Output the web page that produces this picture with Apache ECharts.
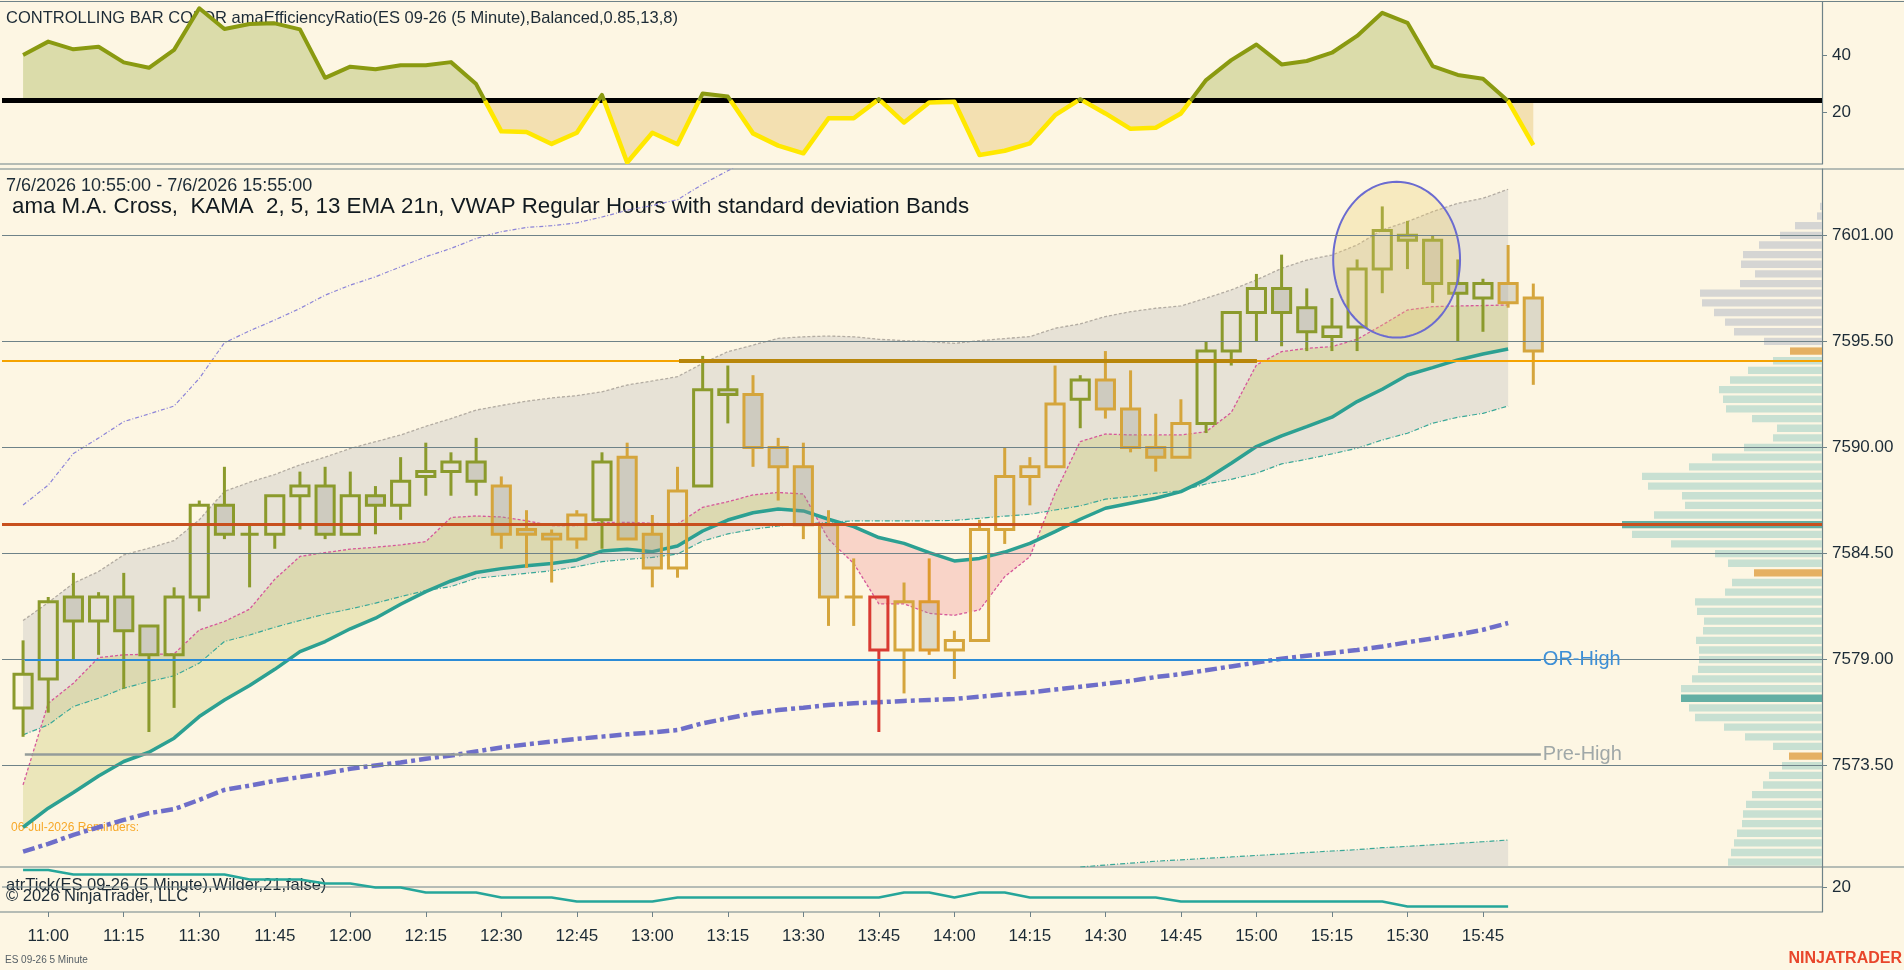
<!DOCTYPE html>
<html><head><meta charset="utf-8">
<script src="https://cdn.jsdelivr.net/npm/echarts@6/dist/echarts.min.js"></script>
<style>html,body{margin:0;padding:0;background:#fdf6e3;}#c{width:1904px;height:970px;}</style>
</head><body><div id="c"></div>
<script>
// ---------------- DATA ----------------
const barTimes = ['10:55','11:00','11:05','11:10','11:15','11:20','11:25','11:30','11:35','11:40','11:45','11:50','11:55',
 '12:00','12:05','12:10','12:15','12:20','12:25','12:30','12:35','12:40','12:45','12:50','12:55',
 '13:00','13:05','13:10','13:15','13:20','13:25','13:30','13:35','13:40','13:45','13:50','13:55',
 '14:00','14:05','14:10','14:15','14:20','14:25','14:30','14:35','14:40','14:45','14:50','14:55',
 '15:00','15:05','15:10','15:15','15:20','15:25','15:30','15:35','15:40','15:45','15:50','15:55'];
const xTickLabels = ['11:00','11:15','11:30','11:45','12:00','12:15','12:30','12:45','13:00','13:15','13:30','13:45',
 '14:00','14:15','14:30','14:45','15:00','15:15','15:30','15:45'];
const priceTicks = [7573.5, 7579, 7584.5, 7590, 7595.5, 7601];
const erTicks = [20, 40];
const atrTicks = [20];

const opens = [7576.5,7578.0,7582.25,7581.0,7582.25,7580.75,7579.25,7582.25,7587.0,7585.5,
 7585.5,7587.5,7588.0,7585.5,7587.5,7587.0,7588.5,7588.75,7589.25,7588.0,
 7585.75,7585.5,7585.25,7586.25,7589.5,7585.5,7583.75,7588.0,7593.0,7592.75,
 7590.0,7589.0,7586.0,7582.25,7582.25,7579.5,7582.0,7579.5,7580.0,7585.75,
 7588.5,7589.0,7592.5,7593.5,7592.0,7590.0,7589.5,7591.25,7595.0,7597.0,
 7598.25,7597.25,7595.75,7596.25,7599.25,7601.0,7600.75,7598.5,7597.75,7598.5,7597.75];
const highs = [7580.0,7582.25,7583.5,7582.5,7583.5,7580.75,7582.75,7587.25,7589.0,7586.0,
 7587.5,7588.75,7589.0,7588.75,7588.0,7589.5,7590.25,7589.75,7590.5,7588.5,
 7586.75,7585.75,7586.75,7589.75,7590.25,7586.5,7589.0,7594.75,7594.25,7593.75,
 7590.5,7590.25,7586.75,7584.25,7582.25,7583.0,7584.25,7580.5,7586.25,7590.0,
 7589.5,7594.25,7593.75,7595.0,7594.0,7591.75,7592.5,7595.5,7597.0,7599.0,
 7600.0,7598.25,7597.75,7599.75,7602.5,7601.75,7601.0,7599.75,7598.75,7600.5,7598.5];
const lows = [7575.0,7576.25,7579.0,7579.25,7577.5,7575.25,7576.5,7581.5,7585.25,7582.75,
 7584.75,7585.75,7585.25,7585.5,7585.5,7586.25,7587.5,7587.5,7587.5,7584.75,
 7583.75,7583.0,7584.75,7584.75,7585.25,7582.75,7583.25,7588.0,7591.25,7589.0,
 7587.25,7585.25,7580.75,7580.75,7575.25,7577.25,7579.25,7578.0,7580.0,7585.0,
 7587.0,7589.0,7591.0,7591.5,7589.75,7588.75,7589.5,7590.75,7594.25,7595.5,
 7595.25,7595.0,7595.0,7595.0,7598.0,7599.25,7597.5,7595.5,7596.0,7597.25,7593.25];
const closes = [7578.25,7582.0,7581.0,7582.25,7580.5,7579.25,7582.25,7587.0,7585.5,7585.5,
 7587.5,7588.0,7585.5,7587.5,7587.0,7588.25,7588.75,7589.25,7588.25,7585.5,
 7585.5,7585.25,7586.5,7589.25,7585.25,7583.75,7587.75,7593.0,7592.75,7590.0,
 7589.0,7586.0,7582.25,7582.25,7579.5,7582.0,7579.5,7580.0,7585.75,7588.5,
 7589.0,7592.25,7593.5,7592.0,7590.0,7589.5,7591.25,7595.0,7597.0,7598.25,
 7597.0,7596.0,7596.25,7599.25,7601.25,7600.75,7598.5,7598.0,7598.5,7597.5,7595.0];
// bar colour state from amaEfficiencyRatio: G trend, Y non-trend, R red, O orange
const barState = ('GGGGGGGGGGGGGGGGGGG'+'YYYY'+'G'+'YYY'+'GG'+'YYYYY'+'R'+'Y'+'O'+'YYYYY'+'G'+'YYYY'+'GGGGGGGGGGGG'+'YY').split('');

// amaEfficiencyRatio
const effRatio = [40.0,44.7,42.0,42.9,37.4,35.5,41.8,56.4,49.1,50.9,51.1,49.0,32.0,35.9,35.0,36.4,36.4,37.5,29.8,13.2,
 13.0,8.8,12.7,26.0,2.3,12.7,8.7,26.5,25.4,12.5,8.2,5.5,17.8,17.8,24.5,16.3,23.3,23.6,4.9,6.4,
 9.0,18.9,24.5,19.5,14.1,14.5,19.5,31.2,38.2,43.7,36.7,37.9,40.8,46.7,54.8,51.3,36.1,33.0,31.7,23.8,8.4];
const erThreshold = 24;

// VWAP bands
const vwapUpper2 = [7587.02,7588.05,7589.69,7590.49,7591.34,7591.74,7592.15,7593.58,7595.43,7596.05,
 7596.61,7597.21,7597.90,7598.42,7598.85,7599.37,7599.89,7600.32,7600.84,7601.19,
 7601.41,7601.50,7601.65,7601.95,7602.30,7602.55,7602.85,7603.65,7604.35,7605.0];
const vwapUpper1 = [7581.03,7581.96,7582.96,7583.57,7584.43,7584.78,7585.17,7586.25,7587.72,7588.2,
 7588.6,7589.1,7589.5,7589.95,7590.3,7590.65,7591.1,7591.5,7591.94,7592.18,
 7592.4,7592.57,7592.69,7592.89,7593.24,7593.45,7593.67,7594.36,7594.97,7595.31,
 7595.66,7595.74,7595.78,7595.74,7595.61,7595.54,7595.49,7595.40,7595.54,7595.65,
 7595.75,7596.18,7596.41,7596.79,7597.04,7597.22,7597.34,7597.74,7598.17,7598.69,
 7599.29,7599.72,7599.98,7600.5,7601.28,7601.71,7602.23,7602.66,7602.92,7603.39];
const vwapLower1 = [7575.1,7575.62,7576.57,7577.0,7577.52,7577.87,7578.16,7578.82,7579.94,7580.28,
 7580.68,7581.03,7581.36,7581.63,7581.93,7582.27,7582.58,7582.79,7583.22,7583.35,
 7583.48,7583.61,7583.82,7584.08,7584.2,7584.3,7584.48,7585.15,7585.52,7585.76,
 7585.93,7586.03,7586.12,7586.2,7586.2,7586.2,7586.2,7586.22,7586.33,7586.44,
 7586.54,7586.76,7586.97,7587.32,7587.45,7587.63,7587.76,7588.11,7588.35,7588.66,
 7589.15,7589.39,7589.67,7589.96,7590.39,7590.74,7591.26,7591.57,7591.77,7592.15];
const vwapLower2 = [7569.05,7569.45,7569.92,7570.31,7570.69,7571.04,7571.25,7571.73,7572.25,7572.47,
 7572.72,7572.91,7573.11,7573.34,7573.51,7573.67,7573.86,7574.03,7574.24,7574.45,
 7574.61,7574.75,7574.89,7575.01,7575.13,7575.23,7575.35,7575.7,7575.96,7576.22,
 7576.39,7576.51,7576.65,7576.74,7576.79,7576.86,7576.91,7576.96,7577.08,7577.2,
 7577.3,7577.45,7577.6,7577.75,7577.9,7578.1,7578.25,7578.45,7578.65,7578.85,
 7579.05,7579.2,7579.35,7579.5,7579.68,7579.9,7580.1,7580.3,7580.55,7580.9];
const vwapLower3Start = 42;
const vwapLower3 = [7568.25,7568.35,7568.45,7568.55,7568.62,7568.7,7568.77,7568.85,7568.92,
 7569.0,7569.08,7569.15,7569.25,7569.32,7569.4,7569.48,7569.56,7569.65];

// KAMA (fast) and EMA 21
const kama = [7572.51,7576.74,7577.78,7579.11,7579.25,7579.28,7579.3,7580.54,7580.98,7581.62,
 7583.17,7584.35,7584.55,7584.73,7584.83,7584.95,7585.12,7586.37,7586.45,7586.4,
 7586.2,7585.95,7585.95,7586.12,7586.12,7586.07,7586.03,7586.9,7587.19,7587.54,
 7587.67,7587.59,7585.24,7583.99,7581.89,7581.89,7581.4,7581.3,7581.58,7583.3,
 7584.34,7587.63,7590.31,7590.7,7590.65,7590.65,7590.65,7590.82,7591.81,7594.28,
 7594.97,7595.14,7595.23,7595.61,7596.35,7597.13,7597.3,7597.34,7597.36,7597.39];
const ema21 = [7570.31,7571.3,7572.11,7572.97,7573.72,7574.2,7574.93,7576.05,7576.91,7577.66,
 7578.5,7579.42,7579.94,7580.6,7581.15,7581.87,7582.53,7583.08,7583.52,7583.72,
 7583.87,7583.99,7584.17,7584.63,7584.72,7584.6,7584.89,7585.67,7586.24,7586.62,
 7586.81,7586.71,7586.28,7585.9,7585.33,7585.03,7584.55,7584.12,7584.25,7584.58,
 7585.03,7585.64,7586.28,7586.85,7587.11,7587.37,7587.71,7588.35,7589.18,7590.05,
 7590.6,7591.08,7591.57,7592.38,7593.02,7593.76,7594.14,7594.54,7594.85,7595.11];

// atrTick
const atrTick = [23.4,23.4,22.5,22.5,22.5,22.5,22.5,22.5,22.5,21.5,21.5,21.5,20.7,20.7,19.9,19.9,18.9,18.9,18.9,17.9,
 17.9,17.9,17.1,17.1,17.1,17.1,17.9,17.9,17.9,17.9,17.9,17.9,17.9,17.9,17.9,18.9,18.9,17.9,18.9,18.9,
 17.9,17.9,17.9,17.9,17.9,17.9,17.1,17.1,17.1,17.1,17.1,17.1,17.1,17.1,17.1,16.1,16.1,16.1,16.1,16.1];

// Volume profile
const profilePrice = [7602.5,7602.0,7601.5,7601.0,7600.5,7600.0,7599.5,7599.0,7598.5,7598.0,7597.5,7597.0,7596.5,7596.0,7595.5,
 7595.0,7594.5,7594.0,7593.5,7593.0,7592.5,7592.0,7591.5,7591.0,7590.5,7590.0,7589.5,7589.0,7588.5,7588.0,
 7587.5,7587.0,7586.5,7586.0,7585.5,7585.0,7584.5,7584.0,7583.5,7583.0,7582.5,7582.0,7581.5,7581.0,7580.5,
 7580.0,7579.5,7579.0,7578.5,7578.0,7577.5,7577.0,7576.5,7576.0,7575.5,7575.0,7574.5,7574.0,7573.5,7573.0,
 7572.5,7572.0,7571.5,7571.0,7570.5,7570.0,7569.5,7569.0,7568.5];
const profileVol = [2,5,27,42,63,79,81,67,82,122,120,108,97,88,58,
 32,49,74,92,103,99,96,70,45,49,78,110,133,180,174,
 140,137,168,200,190,151,107,94,68,90,97,127,125,118,119,
 126,123,123,124,130,141,141,133,127,98,77,49,33,40,53,
 59,70,76,79,80,85,88,91,94];
const profileKind = ('000000000000000'+'2'+'11111111111111111'+'3'+'1111'+'2'+'111111111111'+'3'+'11111'+'2'+'11111111111').split('').map(Number);

// Levels: [price, fromBar, toBar]
const orLevel = [7579.0, 0.07, 60.3];
const preHighLevel = [7574.1, 0.07, 60.3];
const orangeLevel = 7594.5;
const redLevel = 7586.0;
const goldLevel = [7594.5, 26.06, 49.02];
// drawn ellipse: [centerBar, centerPrice, radiusBars, radiusPrice]
const annotEllipse = [54.57, 7599.74, 2.52, 4.04];

// ---------------- CHART ----------------
const FONT = '"Liberation Sans", Arial, sans-serif';
const SLATE = '#6e8288';
const TXT = '#1c2b36';
const X_MIN = -0.837, X_MAX = 71.47;
const P_MIN = 7568.25, P_MAX = 7604.44;
const ER_MIN = 1.75, ER_MAX = 58.6;
const ATR_MIN = 15, ATR_MAX = 24;
const xTickIdx = xTickLabels.map(t => barTimes.indexOf(t));

function buildRuns(U, L) {
  const runs = []; let run = null;
  for (let i = 0; i < U.length; i++) {
    const u = U[i], l = L[i];
    if (u == null || l == null) { run = null; continue; }
    const s = u >= l ? 1 : -1;
    if (!run) { run = {s, up:[[i,u]], lo:[[i,l]]}; runs.push(run); continue; }
    if (s === run.s) { run.up.push([i,u]); run.lo.push([i,l]); continue; }
    const u0 = U[i-1], l0 = L[i-1];
    const d0 = u0 - l0, d1 = u - l;
    const t = d0 / (d0 - d1);
    const xc = i - 1 + t, yc = l0 + t * (l - l0);
    run.up.push([xc,yc]); run.lo.push([xc,yc]);
    run = {s, up:[[xc,yc],[i,u]], lo:[[xc,yc],[i,l]]}; runs.push(run);
  }
  return runs;
}
function fillSeries(xi, yi, U, L, colPos, colNeg, z) {
  const runs = buildRuns(U, L);
  return {
    type:'custom', xAxisIndex:xi, yAxisIndex:yi, z:z, silent:true, clip:true,
    data:[[0, 0]],
    renderItem(params, api) {
      return {type:'group', children: runs.map(r => ({
        type:'polygon',
        shape:{points: r.up.concat(r.lo.slice().reverse()).map(p => api.coord(p))},
        style:{fill: r.s > 0 ? colPos : colNeg}
      }))};
    }
  };
}
function lineData(arr, start) {
  const out = [];
  arr.forEach((v, k) => { if (v != null) out.push([k + (start || 0), v]); });
  return out;
}
function bandLine(arr, color, width, type, z, start) {
  return {type:'line', xAxisIndex:1, yAxisIndex:1, data: lineData(arr, start), showSymbol:false, symbol:'none',
    silent:true, z:z, lineStyle:{color:color, width:width, type:type}, clip:true, animation:false};
}
const constArr = (n, v) => Array.from({length:n}, () => v);

const lower3Full = new Array(vwapLower3Start).fill(null).concat(vwapLower3);
const thresholdArr = constArr(effRatio.length, erThreshold);

const colors = {G:'#8b9a2c', Y:'#d5a53c', R:'#d93a32', O:'#de9a2e'};

const series = [];
// ER fill
series.push(fillSeries(0, 0, effRatio, thresholdArr, '#dbdcaa', '#f3e0b1', 1));
// ER threshold line
series.push({type:'line', xAxisIndex:0, yAxisIndex:0, data:[[X_MIN, erThreshold],[X_MAX, erThreshold]], showSymbol:false,
  symbol:'none', silent:true, z:2, lineStyle:{color:'#000000', width:5}, animation:false});
// ER line coloured by side of threshold
series.push({type:'custom', xAxisIndex:0, yAxisIndex:0, z:3, silent:true, clip:true, data:[[0, 0]],
  renderItem(params, api) {
    const runs = buildRuns(effRatio, thresholdArr);
    return {type:'group', children: runs.map(r => ({type:'polyline',
      shape:{points: r.up.map(p => api.coord(p))},
      style:{stroke: r.s > 0 ? '#8a9a10' : '#ffe800', lineWidth: r.s > 0 ? 4 : 4.5, fill:'none', lineJoin:'round'}}))};
  }});
// gray band
series.push(fillSeries(1, 1, vwapUpper1, vwapLower1, 'rgba(190,190,190,0.35)', 'rgba(190,190,190,0.35)', 1));
// kama/ema fill
series.push(fillSeries(1, 1, kama, ema21, 'rgba(200,200,110,0.35)', 'rgba(240,150,150,0.35)', 1));
// lower3 fill to bottom
series.push(fillSeries(1, 1, lower3Full, constArr(lower3Full.length, P_MIN - 5), 'rgba(190,190,190,0.35)', 'rgba(190,190,190,0.35)', 1));
// volume profile
series.push({type:'custom', xAxisIndex:3, yAxisIndex:1, z:1, silent:true, clip:true,
  data: profilePrice.map((p, k) => [profileVol[k], p]),
  renderItem(params, api) {
    const v = api.value(0), p = api.value(1);
    const p0 = api.coord([0, p]), p1 = api.coord([v, p]);
    const h = api.size([0, 0.38])[1];
    const kc = ['#d5d5d3', '#c8e0d2', '#e5b062', '#64afa4'][profileKind[params.dataIndex]];
    return {type:'rect', shape:{x: Math.min(p0[0], p1[0]), y: p0[1] - h/2, width: Math.abs(p1[0]-p0[0]), height: h},
      style:{fill: kc}};
  }});
// band lines
series.push(bandLine(vwapUpper2, '#8c84d8', 1.2, [4,2,1,2], 2));
series.push(bandLine(vwapUpper1, '#b3aca2', 1.3, [3,2], 2));
series.push(bandLine(vwapLower1, '#3aa898', 1.2, [5,2,1,2], 2));
series.push(bandLine(kama, '#d6589a', 1.3, [3,2], 2));
series.push(bandLine(ema21, '#2ca092', 3.5, 'solid', 2));
series.push(bandLine(vwapLower2, '#6e6ec9', 4.5, [12,4,4,4], 2));
series.push(bandLine(vwapLower3, '#3aa898', 1.2, [5,2,1,2], 2, vwapLower3Start));
// levels host
series.push({type:'line', xAxisIndex:1, yAxisIndex:1, data:[[X_MIN, P_MIN]], showSymbol:false, symbol:'none', silent:true,
  lineStyle:{opacity:0}, z:2, animation:false,
  markLine:{silent:true, symbol:'none', animation:false, label:{show:false},
    data: priceTicks.map(p => ({yAxis:p, lineStyle:{color:SLATE, width:1, type:'solid'}})).concat([
      {yAxis: orangeLevel, lineStyle:{color:'#f5a300', width:2, type:'solid'}},
      {yAxis: redLevel, lineStyle:{color:'#c8501e', width:3, type:'solid'}},
      [{coord:[goldLevel[1], goldLevel[0]], lineStyle:{color:'#b8860b', width:4, type:'solid'}}, {coord:[goldLevel[2], goldLevel[0]]}],
      [{coord:[orLevel[1], orLevel[0]], lineStyle:{color:'#2b8bd6', width:2, type:'solid'},
        label:{show:true, position:'end', formatter:'OR-High', color:'#3d8fd6', fontSize:20, fontFamily:FONT, distance:2}},
       {coord:[orLevel[2], orLevel[0]]}],
      [{coord:[preHighLevel[1], preHighLevel[0]], lineStyle:{color:'#949c9a', width:2.5, type:'solid'},
        label:{show:true, position:'end', formatter:'Pre-High', color:'#a0a8a8', fontSize:20, fontFamily:FONT, distance:2}},
       {coord:[preHighLevel[2], preHighLevel[0]]}]
    ])}});
// candles
series.push({type:'custom', xAxisIndex:1, yAxisIndex:1, z:3, silent:true, clip:true,
  data: opens.map((o, i) => [i, o, highs[i], lows[i], closes[i]]),
  encode:{x:0, y:[1,2,3,4]},
  renderItem(params, api) {
    const i = api.value(0), o = api.value(1), h = api.value(2), l = api.value(3), c = api.value(4);
    const top = Math.max(o, c), bot = Math.min(o, c);
    const pH = api.coord([i, h]), pL = api.coord([i, l]), pT = api.coord([i, top]), pB = api.coord([i, bot]);
    const w = api.size([1, 0])[0] * 0.72;
    const st = barState[params.dataIndex];
    const col = colors[st];
    const down = c < o;
    let fill = down ? 'rgba(150,150,140,0.3)' : 'rgba(0,0,0,0)';
    if (st === 'R') fill = 'rgba(235,150,130,0.15)';
    return {type:'group', children:[
      {type:'line', shape:{x1:pH[0], y1:pH[1], x2:pT[0], y2:pT[1]}, style:{stroke:col, lineWidth:3}},
      {type:'line', shape:{x1:pB[0], y1:pB[1], x2:pL[0], y2:pL[1]}, style:{stroke:col, lineWidth:3}},
      {type:'rect', shape:{x:pT[0] - w/2, y:pT[1], width:w, height:pB[1] - pT[1]}, style:{fill:fill, stroke:col, lineWidth:3}}
    ]};
  }});
// ellipse annotation
series.push({type:'custom', xAxisIndex:1, yAxisIndex:1, z:4, silent:true, clip:true,
  data:[[annotEllipse[0], annotEllipse[1]]],
  renderItem(params, api) {
    const pts = [];
    for (let k = 0; k < 96; k++) {
      const a = k / 96 * Math.PI * 2;
      pts.push(api.coord([annotEllipse[0] + annotEllipse[2] * Math.cos(a), annotEllipse[1] + annotEllipse[3] * Math.sin(a)]));
    }
    return {type:'polygon', shape:{points:pts}, style:{fill:'rgba(235,205,110,0.3)', stroke:'#6b6bd0', lineWidth:2}};
  }});
// ATR
series.push({type:'line', xAxisIndex:2, yAxisIndex:2, data: lineData(atrTick), showSymbol:false, symbol:'none', silent:true,
  z:3, lineStyle:{color:'#26a69a', width:2.5}, animation:false});
series.push({type:'line', xAxisIndex:2, yAxisIndex:2, data:[[X_MIN, atrTicks[0]],[X_MAX, atrTicks[0]]], showSymbol:false,
  symbol:'none', silent:true, z:2, lineStyle:{color:SLATE, width:1}, animation:false});

function yAx(grid, min, max, ticks, fmt) {
  return {gridIndex:grid, type:'value', position:'right', min:min, max:max, scale:true,
    axisLine:{show:true, onZero:false, lineStyle:{color:SLATE, width:1.2}},
    axisTick:{show:true, customValues:ticks, length:5, lineStyle:{color:SLATE}},
    axisLabel:{show:true, customValues:ticks, margin:10, fontSize:17, color:TXT, fontFamily:FONT, formatter:fmt},
    splitLine:{show:false}};
}

const option = {
  animation:false,
  backgroundColor:'#fdf6e3',
  grid:[
    {left:2, right:82, top:2, height:162},
    {left:2, right:82, top:169, height:698},
    {left:2, right:82, top:867, height:45}
  ],
  xAxis:[
    {gridIndex:0, type:'value', min:X_MIN, max:X_MAX, show:false},
    {gridIndex:1, type:'value', min:X_MIN, max:X_MAX, show:false},
    {gridIndex:2, type:'value', min:X_MIN, max:X_MAX, position:'bottom',
      axisLine:{show:false, onZero:false}, splitLine:{show:false},
      axisTick:{show:true, customValues:xTickIdx, length:5, lineStyle:{color:SLATE}},
      axisLabel:{show:true, customValues:xTickIdx, margin:16, fontSize:17, color:TXT, fontFamily:FONT,
        formatter: v => barTimes[Math.round(v)]}},
    {gridIndex:1, type:'value', min:0, max:1820, inverse:true, show:false}
  ],
  yAxis:[
    yAx(0, ER_MIN, ER_MAX, erTicks, v => String(Math.round(v))),
    yAx(1, P_MIN, P_MAX, priceTicks, v => v.toFixed(2)),
    yAx(2, ATR_MIN, ATR_MAX, atrTicks, v => String(Math.round(v)))
  ],
  series: series,
  graphic:[
    {type:'line', silent:true, shape:{x1:0, y1:1.5, x2:1904, y2:1.5}, style:{stroke:SLATE, lineWidth:1.2}},
    {type:'line', silent:true, shape:{x1:0, y1:164, x2:1822, y2:164}, style:{stroke:SLATE, lineWidth:1.2}},
    {type:'line', silent:true, shape:{x1:0, y1:169, x2:1904, y2:169}, style:{stroke:SLATE, lineWidth:1.2}},
    {type:'line', silent:true, shape:{x1:0, y1:867, x2:1904, y2:867}, style:{stroke:SLATE, lineWidth:1.2}},
    {type:'line', silent:true, shape:{x1:0, y1:912, x2:1822, y2:912}, style:{stroke:SLATE, lineWidth:1.2}},
    {type:'text', silent:true, x:6, y:18, style:{text:'CONTROLLING BAR COLOR amaEfficiencyRatio(ES 09-26 (5 Minute),Balanced,0.85,13,8)',
      fill:TXT, fontSize:16.5, fontFamily:FONT, verticalAlign:'middle', align:'left'}},
    {type:'text', silent:true, x:6, y:186, style:{text:'7/6/2026 10:55:00 - 7/6/2026 15:55:00',
      fill:TXT, fontSize:18, fontFamily:FONT, verticalAlign:'middle', align:'left'}},
    {type:'text', silent:true, x:12, y:207, style:{text:'ama M.A. Cross,  KAMA  2, 5, 13 EMA 21n, VWAP Regular Hours with standard deviation Bands',
      fill:'#111a20', fontSize:22.3, fontFamily:FONT, verticalAlign:'middle', align:'left'}},
    {type:'text', silent:true, x:11, y:828, style:{text:'06-Jul-2026 Reminders:', fill:'#f7a829', fontSize:12, fontFamily:FONT, verticalAlign:'middle'}},
    {type:'text', silent:true, x:6, y:885, style:{text:'atrTick(ES 09-26 (5 Minute),Wilder,21,false)', fill:TXT, fontSize:16.5, fontFamily:FONT, verticalAlign:'middle'}},
    {type:'text', silent:true, x:6, y:896, style:{text:'© 2026 NinjaTrader, LLC', fill:TXT, fontSize:16.5, fontFamily:FONT, verticalAlign:'middle'}},
    {type:'text', silent:true, x:5, y:960, style:{text:'ES 09-26 5 Minute', fill:'#555f66', fontSize:10, fontFamily:FONT, verticalAlign:'middle'}},
    {type:'text', silent:true, x:1902, y:959, style:{text:'NINJATRADER', fill:'#e8462b', fontSize:16, fontWeight:'bold', fontFamily:FONT, verticalAlign:'middle', align:'right'}}
  ]
};
const chart = echarts.init(document.getElementById('c'));
chart.setOption(option);
</script></body></html>
